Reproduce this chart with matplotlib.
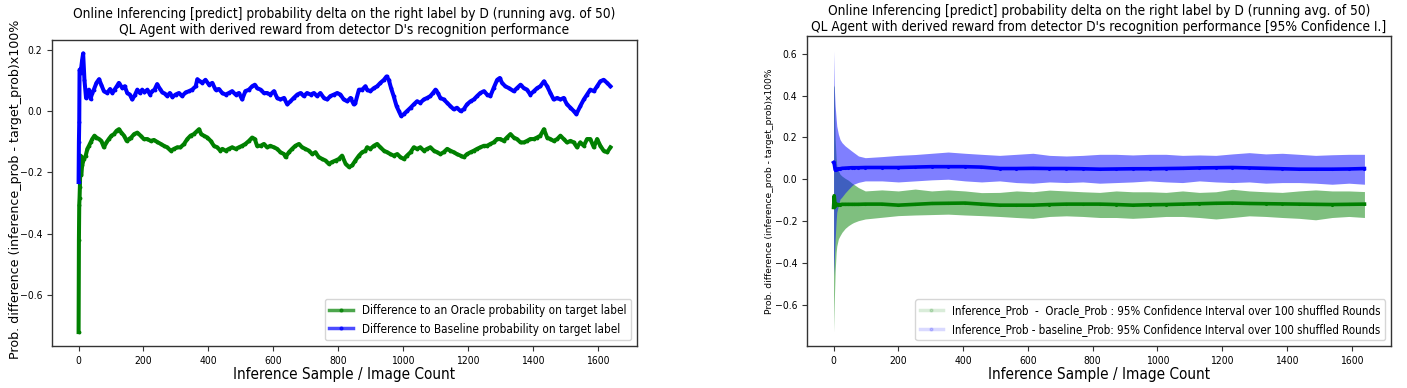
import matplotlib
matplotlib.use("Agg")
import matplotlib.pyplot as plt
from matplotlib import font_manager as fm
from matplotlib.lines import Line2D

# ---------------- data ----------------
blue_pts = [(0,-0.231),(1,-0.10),(2,-0.037),(3,0.135),(6,0.124),(11,0.167),(14,0.188),
    (18,0.102),(23,0.043),(27,0.059),(32,0.070),(37,0.040),(42,0.059),(47,0.070),
    (55,0.092),(63,0.104),(70,0.086),(78,0.065),(88,0.059),(97,0.072),(104,0.059),
    (111,0.070),(119,0.083),(124,0.092),(135,0.075),(142,0.081),(150,0.059),(158,0.054),
    (165,0.038),(173,0.051),(181,0.070),(189,0.059),(196,0.070),(203,0.061),(212,0.070),
    (220,0.054),(227,0.065),(234,0.070),(242,0.088),(251,0.072),(258,0.061),(266,0.057),
    (273,0.049),(281,0.059),(289,0.046),(299,0.054),(309,0.059),(319,0.049),(330,0.061),
    (340,0.065),(350,0.070),(361,0.081),(366,0.104),(374,0.097),(381,0.092),(391,0.102),
    (402,0.086),(412,0.092),(422,0.070),(432,0.072),
    (443,0.059),(453,0.054),(463,0.059),(473,0.065),(484,0.054),(494,0.059),(504,0.038),
    (514,0.065),(525,0.070),(535,0.081),(543,0.086),(550,0.075),(561,0.070),(571,0.059),
    (581,0.059),(591,0.054),(602,0.065),(612,0.043),(622,0.038),(633,0.043),(643,0.022),
    (653,0.032),(663,0.043),(674,0.054),(684,0.059),(694,0.049),(704,0.059),(715,0.054),
    (725,0.059),(735,0.049),(745,0.059),(756,0.043),(766,0.038),(776,0.049),(787,0.054),
    (797,0.059),(807,0.054),(817,0.038),(828,0.032),(838,0.043),(848,0.022),(853,0.027),
    (864,0.070),(874,0.070),(884,0.081),
    (889,0.070),(899,0.065),(910,0.075),(920,0.081),(930,0.092),(941,0.102),(949,0.113),
    (956,0.102),(963,0.075),(971,0.049),(980,0.016),(987,0.000),(994,-0.016),(1002,-0.010),
    (1012,0.000),(1023,0.011),(1033,0.022),(1043,0.032),(1053,0.027),(1064,0.038),
    (1074,0.043),(1084,0.049),(1092,0.059),(1100,0.070),(1107,0.059),(1115,0.043),
    (1125,0.038),(1136,0.027),(1146,0.016),(1156,0.006),(1166,0.011),(1177,0.000),
    (1187,0.006),(1197,0.022),(1208,0.032),(1218,0.038),(1228,0.049),(1238,0.059),
    (1249,0.065),(1259,0.054),(1269,0.049),(1279,0.075),(1290,0.102),(1298,0.108),
    (1305,0.092),(1315,0.081),(1326,0.075),
    (1341,0.065),(1351,0.075),(1362,0.086),(1372,0.075),(1382,0.070),(1392,0.054),
    (1403,0.065),(1413,0.075),(1423,0.081),(1434,0.097),(1444,0.081),(1454,0.059),
    (1464,0.038),(1475,0.043),(1485,0.038),(1495,0.043),(1505,0.022),(1516,0.011),
    (1526,0.000),(1534,-0.010),(1546,0.016),(1557,0.038),(1567,0.054),(1577,0.070),
    (1588,0.065),(1598,0.081),(1608,0.097),(1618,0.102),(1629,0.092),(1639,0.081)]

green_pts = [(0,-0.72),(1,-0.42),(2,-0.306),(3,-0.283),(4,-0.247),(6,-0.145),(8,-0.209),
    (11,-0.177),(16,-0.156),(22,-0.145),(27,-0.123),(32,-0.113),(37,-0.102),(42,-0.091),
    (49,-0.080),(55,-0.086),(63,-0.091),(70,-0.097),(78,-0.118),(86,-0.102),(93,-0.091),
    (101,-0.080),(109,-0.075),(117,-0.064),(124,-0.059),(132,-0.070),(140,-0.080),
    (148,-0.097),(155,-0.091),(162,-0.086),(171,-0.075),(181,-0.070),(191,-0.080),
    (201,-0.091),(212,-0.091),(222,-0.097),(232,-0.094),(242,-0.100),(253,-0.107),
    (263,-0.113),(273,-0.118),(284,-0.129),(294,-0.123),(304,-0.118),(314,-0.118),
    (325,-0.107),(335,-0.091),(345,-0.080),(355,-0.075),(366,-0.064),(371,-0.059),
    (378,-0.075),(386,-0.080),(397,-0.086),(407,-0.097),(417,-0.113),(427,-0.118),
    (437,-0.129),
    (443,-0.123),(453,-0.129),(463,-0.123),(473,-0.118),(484,-0.123),(494,-0.118),
    (504,-0.113),(514,-0.107),(525,-0.097),(535,-0.086),(543,-0.091),(550,-0.113),
    (561,-0.113),(571,-0.107),(581,-0.118),(591,-0.113),(602,-0.118),(612,-0.123),
    (622,-0.134),(633,-0.140),(638,-0.150),(648,-0.134),(658,-0.123),(668,-0.113),
    (679,-0.107),(689,-0.118),(699,-0.123),(710,-0.129),(720,-0.140),(730,-0.134),
    (740,-0.150),(751,-0.156),(761,-0.161),(771,-0.172),(781,-0.166),(792,-0.161),
    (802,-0.156),(812,-0.145),(823,-0.172),(833,-0.182),(843,-0.177),(853,-0.161),
    (864,-0.145),(874,-0.134),(884,-0.129),
    (889,-0.118),(899,-0.123),(910,-0.113),(920,-0.107),(930,-0.118),(941,-0.129),
    (951,-0.134),(961,-0.140),(971,-0.145),(982,-0.140),(992,-0.150),(1002,-0.156),
    (1012,-0.145),(1023,-0.134),(1033,-0.118),(1043,-0.123),(1053,-0.118),(1064,-0.129),
    (1074,-0.123),(1084,-0.118),(1095,-0.129),(1105,-0.134),(1115,-0.140),(1125,-0.134),
    (1136,-0.123),(1146,-0.129),(1156,-0.134),(1166,-0.140),(1177,-0.145),(1187,-0.150),
    (1197,-0.140),(1208,-0.134),(1218,-0.129),(1228,-0.123),(1238,-0.118),(1249,-0.113),
    (1259,-0.113),(1269,-0.107),(1279,-0.102),(1290,-0.091),(1300,-0.091),(1310,-0.097),
    (1320,-0.086),(1331,-0.075),
    (1341,-0.086),(1351,-0.091),(1362,-0.102),(1372,-0.102),(1382,-0.097),(1392,-0.091),
    (1403,-0.091),(1413,-0.086),(1423,-0.080),(1434,-0.059),(1444,-0.086),(1454,-0.091),
    (1464,-0.097),(1475,-0.091),(1485,-0.080),(1495,-0.091),(1505,-0.102),(1516,-0.097),
    (1526,-0.102),(1536,-0.118),(1546,-0.102),(1557,-0.113),(1567,-0.091),(1577,-0.091),
    (1588,-0.118),(1598,-0.091),(1608,-0.113),(1618,-0.129),(1629,-0.134),(1639,-0.118)]

ci_x = [0, 2, 5, 8, 10, 15, 20, 26, 36, 46, 56, 62, 77, 98, 149, 200, 252, 303, 354, 406, 457,
        513, 565, 616, 667, 719, 770, 822, 873, 924, 976, 1027, 1078, 1130, 1181, 1232, 1284,
        1335, 1386, 1438, 1489, 1540, 1592, 1640]
base_upper = [0.615, 0.45, 0.35, 0.29, 0.254, 0.215, 0.19, 0.175, 0.159, 0.147, 0.135, 0.128,
              0.111, 0.103, 0.108, 0.114, 0.118, 0.124, 0.130, 0.124, 0.119,
              0.114, 0.119, 0.124, 0.114, 0.111, 0.114, 0.119, 0.119, 0.116, 0.119, 0.119,
              0.114, 0.116, 0.114, 0.121, 0.127, 0.121, 0.124, 0.119, 0.114, 0.117, 0.119, 0.119]
base_mean = [0.08, 0.075, 0.045, 0.045, 0.048, 0.05, 0.05, 0.052, 0.053, 0.054, 0.055, 0.055,
             0.055, 0.056, 0.056, 0.056, 0.058, 0.06, 0.06, 0.06, 0.058,
             0.051, 0.051, 0.052, 0.051, 0.051, 0.050, 0.048, 0.049, 0.050, 0.050, 0.051,
             0.052, 0.054, 0.055, 0.056, 0.054, 0.052, 0.050, 0.048, 0.048, 0.048, 0.049, 0.051]
base_lower = [-0.46, -0.40, -0.285, -0.20, -0.158, -0.125, -0.095, -0.085, -0.065, -0.048,
              -0.032, -0.024, -0.015, -0.008, -0.008, -0.013, -0.008, -0.003, 0.0, -0.008, -0.013,
              -0.008, -0.016, -0.019, -0.013, -0.016, -0.013, -0.019, -0.016, -0.013, -0.008,
              -0.013, -0.016, -0.008, -0.013, -0.016, -0.013, -0.019, -0.016, -0.016, -0.019,
              -0.024, -0.019, -0.024]
orac_upper = [0.45, 0.44, 0.19, 0.10, 0.064, 0.04, 0.024, 0.015, 0.004, -0.005, -0.018, -0.024,
              -0.04, -0.056, -0.051, -0.056, -0.047, -0.056, -0.051, -0.056, -0.064,
              -0.063, -0.056, -0.060, -0.052, -0.056, -0.060, -0.063, -0.056, -0.060, -0.060,
              -0.063, -0.056, -0.063, -0.060, -0.048, -0.056, -0.060, -0.063, -0.056, -0.051,
              -0.056, -0.056, -0.059]
orac_mean = [-0.135, -0.079, -0.127, -0.12, -0.12, -0.122, -0.122, -0.12, -0.12, -0.12, -0.12,
             -0.12, -0.12, -0.119, -0.119, -0.124, -0.12, -0.116, -0.115, -0.114, -0.119,
             -0.124, -0.124, -0.124, -0.121, -0.119, -0.119, -0.119, -0.121, -0.124, -0.122,
             -0.121, -0.119, -0.117, -0.115, -0.114, -0.116, -0.117, -0.118, -0.119, -0.120,
             -0.121, -0.120, -0.119]
orac_lower = [-0.73, -0.60, -0.44, -0.35, -0.32, -0.285, -0.27, -0.254, -0.235, -0.222, -0.212,
              -0.207, -0.198, -0.19, -0.182, -0.174, -0.171, -0.169, -0.167, -0.171, -0.174,
              -0.178, -0.183, -0.187, -0.178, -0.175, -0.178, -0.183, -0.183, -0.187, -0.183,
              -0.178, -0.178, -0.183, -0.190, -0.183, -0.175, -0.178, -0.183, -0.187, -0.194,
              -0.183, -0.178, -0.183]

title_left = ("Online Inferencing [predict] probability delta on the right label by D (running avg. of 50)\n"
              "QL Agent with derived reward from detector D's recognition performance")
title_right = ("Online Inferencing [predict] probability delta on the right label by D (running avg. of 50)\n"
               "QL Agent with derived reward from detector D's recognition performance [95% Confidence I.]")
xlabel = "Inference Sample / Image Count"
ylabel = "Prob. difference (inference_prob - target_prob)x100%"
legend_left = ["Difference to an Oracle probability on target label",
               "Difference to Baseline probability on target label"]
legend_right = ["Inference_Prob  -  Oracle_Prob : 95% Confidence Interval over 100 shuffled Rounds",
                "Inference_Prob - baseline_Prob: 95% Confidence Interval over 100 shuffled Rounds"]
xticks = [0, 200, 400, 600, 800, 1000, 1200, 1400, 1600]
yticks_left = [-0.6, -0.4, -0.2, 0.0, 0.2]
yticks_right = [-0.6, -0.4, -0.2, 0.0, 0.2, 0.4, 0.6]

# ---------------- fonts ----------------
cond = dict(family="DejaVu Sans")
for f in fm.fontManager.ttflist:
    if f.name == "DejaVu Sans" and str(f.stretch) in ("condensed", "semi-condensed"):
        cond = dict(family="DejaVu Sans", stretch="condensed")
        break
else:
    names = {f.name for f in fm.fontManager.ttflist}
    if "Liberation Sans Narrow" in names:
        cond = dict(family="Liberation Sans Narrow")

plt.rcParams["font.family"] = cond["family"]
if "stretch" in cond:
    plt.rcParams["font.stretch"] = cond["stretch"]

W, H = 1407, 388
fig = plt.figure(figsize=(W / 100, H / 100), dpi=100)
ax1 = fig.add_axes([52 / W, 42 / H, 585 / W, 306.5 / H])
ax2 = fig.add_axes([807 / W, 42 / H, 584 / W, 309.5 / H])

bx, by = zip(*blue_pts)
gx, gy = zip(*green_pts)

ax1.plot(gx, gy, color="green", lw=2.9, marker=".", ms=3.5, label=legend_left[0])
ax1.plot(bx, by, color="blue", lw=2.9, marker=".", ms=3.5, label=legend_left[1])

ax2.fill_between(ci_x, orac_lower, orac_upper, color="green", alpha=0.5, lw=0)
ax2.fill_between(ci_x, base_lower, base_upper, color="blue", alpha=0.5, lw=0)
ax2.plot(ci_x, orac_mean, color="green", lw=2.6, marker=".", ms=2.5)
ax2.plot(ci_x, base_mean, color="blue", lw=2.6, marker=".", ms=2.5)

for ax in (ax1, ax2):
    ax.set_xticks(xticks)
    ax.tick_params(labelsize=7.5, length=3.5, width=0.8, color="#333333")
    for s in ax.spines.values():
        s.set_color("#333333")
        s.set_linewidth(1.0)
    ax.set_xlabel(xlabel, fontsize=11)
    ax.xaxis.set_label_coords(0.5, -0.068)

ax1.set_yticks(yticks_left)
ax2.set_yticks(yticks_right)

ax1.set_title(title_left, fontsize=9.8, pad=4)
ax2.set_title(title_right, fontsize=9.8, pad=4)
ax1.set_ylabel(ylabel, fontsize=9.1, family="DejaVu Sans", stretch="normal")
ax1.yaxis.set_label_coords(-0.052, 0.51)
ax2.set_ylabel(ylabel, fontsize=6.6, family="DejaVu Sans", stretch="normal")
ax2.yaxis.set_label_coords(-0.056, 0.499)

h1 = [Line2D([], [], color="green", lw=2.5, alpha=0.7, marker=".", ms=4, mfc="green", mec="green"),
      Line2D([], [], color="blue", lw=2.5, alpha=0.7, marker=".", ms=4, mfc="blue", mec="blue")]
ax1.legend(h1, legend_left, loc="lower right", fontsize=8.4, handlelength=2.0)
h2 = [Line2D([], [], color="green", lw=2.5, alpha=0.15, marker=".", ms=4, mfc="green", mec="green"),
      Line2D([], [], color="blue", lw=2.5, alpha=0.15, marker=".", ms=4, mfc="blue", mec="blue")]
ax2.legend(h2, legend_right, loc="lower right", fontsize=8.3, handlelength=2.0)

fig.savefig("out.png", dpi=100)
